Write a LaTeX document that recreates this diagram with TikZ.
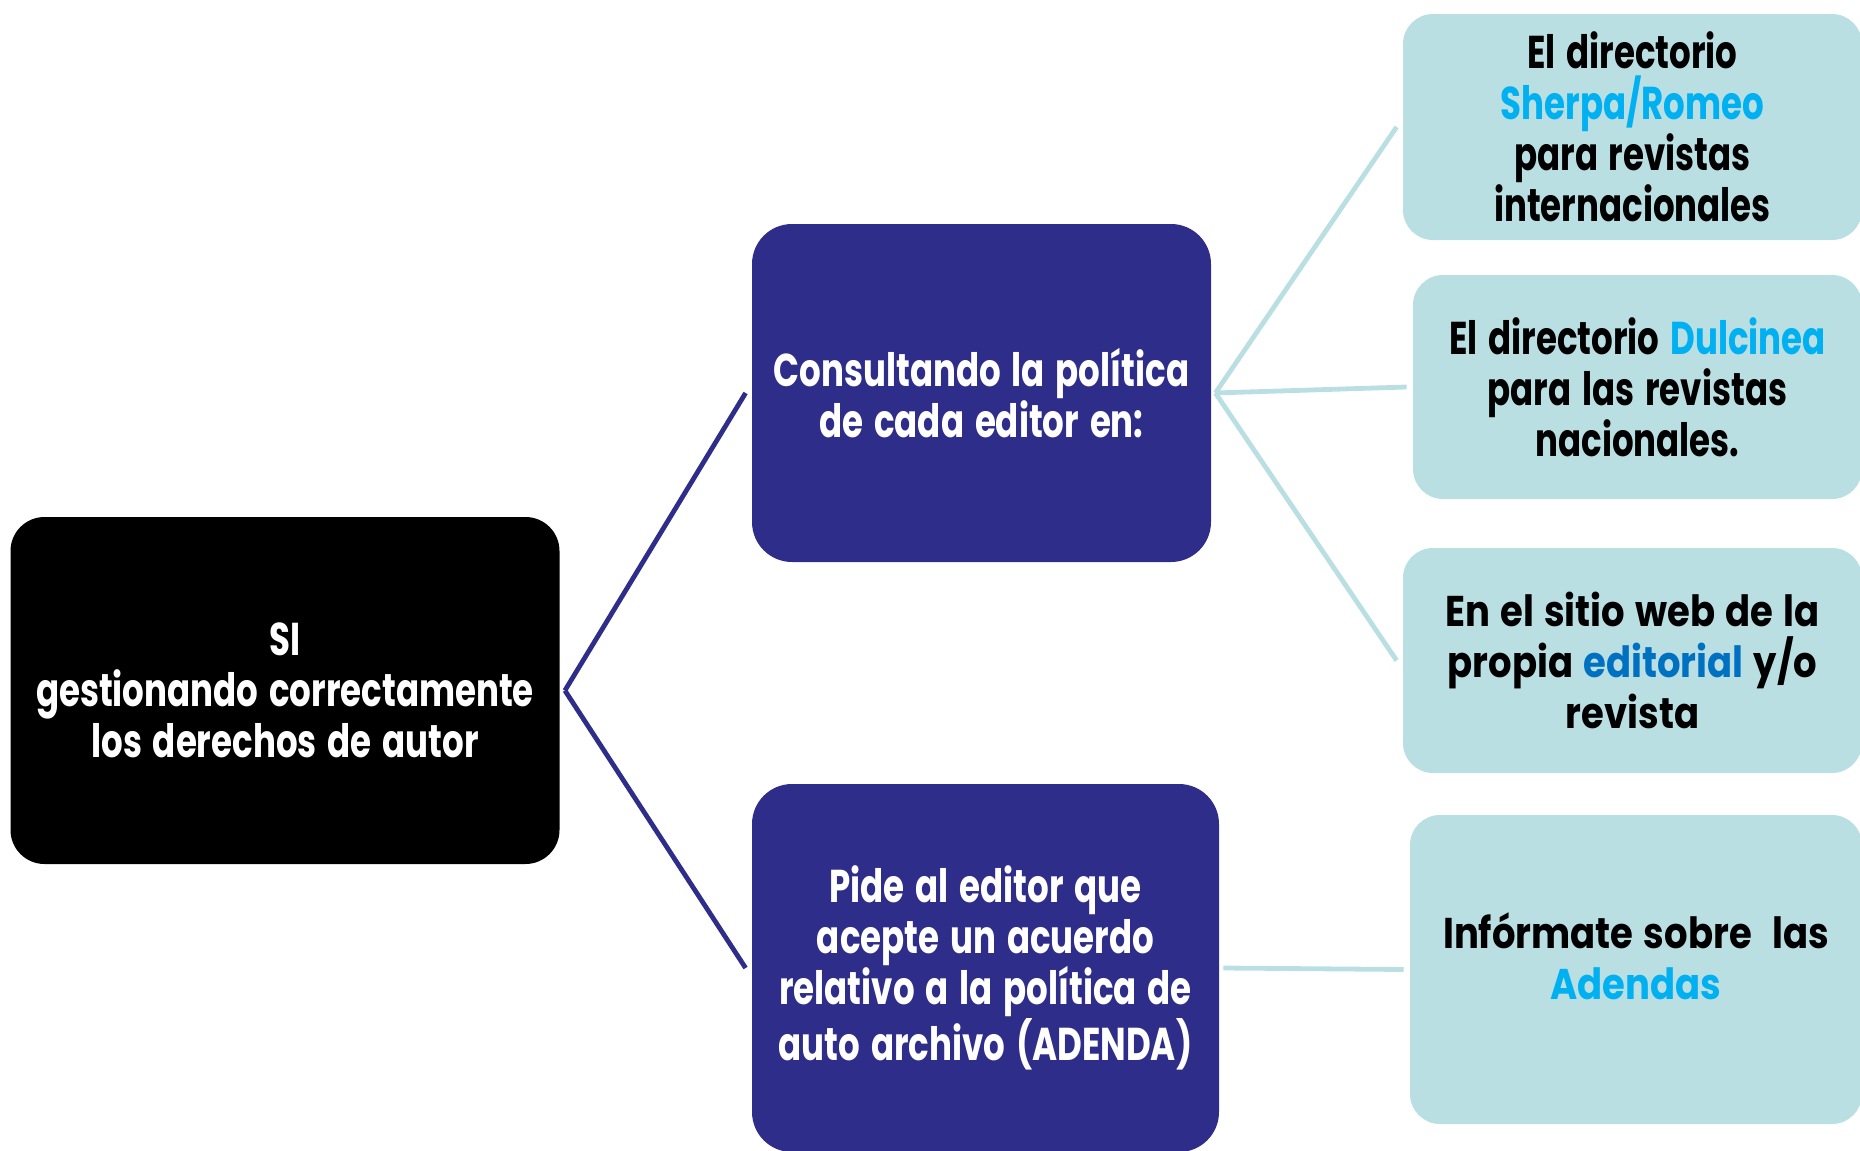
\documentclass[tikz,border=0pt]{standalone}
\usepackage{fontspec}
\newfontfamily\condfont{Poppins}[FakeStretch=0.74, WordSpace=1.5]
\newfontfamily\geofont{Poppins}[FakeStretch=0.86, WordSpace=1.3]
\definecolor{navy}{HTML}{2E2E8A}
\definecolor{paleteal}{HTML}{BADFE3}
\definecolor{skyblue}{HTML}{00B0F0}
\definecolor{linkblue}{HTML}{0070C0}
\tikzset{
	rootbox/.style={rectangle, rounded corners=17pt, fill=black, text=white, align=center, inner sep=0pt,
		font=\condfont\bfseries\fontsize{23}{25.5}\selectfont},
	midbox/.style={rectangle, rounded corners=20pt, fill=navy, text=white, align=center, inner sep=0pt,
		font=\condfont\bfseries\fontsize{23}{25.5}\selectfont},
	leafbox/.style={rectangle, rounded corners=15pt, fill=paleteal, text=black, align=center, inner sep=0pt,
		font=\condfont\bfseries\fontsize{23}{25.5}\selectfont},
	darklink/.style={draw=navy, line width=2.4pt},
	lightlink/.style={draw=paleteal, line width=2.4pt}
}
\begin{document}
\begin{tikzpicture}[x=0.5pt, y=-0.5pt]
			\useasboundingbox (0,0) rectangle (1860,1151);
			\clip (0,0) rectangle (1860,1151);
			
			%first column
			\node (root) at (285, 690.5) [rootbox, minimum width=274.5pt, minimum height=173.5pt]
				{SI\\gestionando correctamente\\los derechos de autor};
			
			%second column
			\node (cons) at (981.5, 393) [midbox, minimum width=229.5pt, minimum height=169pt]
				{Consultando la política\\de cada editor en:};
			\node (pide) at (985.5, 968) [midbox, minimum width=233.5pt, minimum height=184pt]
				{Pide al editor que\\acepte un acuerdo\\relativo a la política de\\auto archivo (ADENDA)};
			
			%third column
			\node (sherpa) at (1632.5, 127) [leafbox, minimum width=229.5pt, minimum height=113pt]
				{El directorio\\\textcolor{skyblue}{Sherpa/Romeo}\\para revistas\\internacionales};
			\node (dulci) at (1637.5, 387) [leafbox, minimum width=224.5pt, minimum height=112pt]
				{El directorio \textcolor{skyblue}{Dulcinea}\\para las revistas\\nacionales.};
			\node (sitio) at (1632.5, 660.5) [leafbox, minimum width=229.5pt, minimum height=112.5pt,
				font=\geofont\bfseries\fontsize{21.5}{25.5}\selectfont]
				{En el sitio web de la\\propia \textcolor{linkblue}{editorial} y/o\\revista};
			\node (inform) at (1636, 969.5) [leafbox, minimum width=226pt, minimum height=154.5pt,
				font=\geofont\bfseries\fontsize{21.5}{25.5}\selectfont]
				{Infórmate sobre\ \ las\\\textcolor{skyblue}{Adendas}\\[-12pt]};
			
			%links
			\draw[darklink] ([xshift=2.5pt]root.east) -- ([xshift=-3pt]cons.west);
			\draw[darklink] ([xshift=2.5pt]root.east) -- ([xshift=-3pt]pide.west);
			\foreach \leaf in {sherpa, dulci, sitio}{
				\draw[lightlink] ([xshift=2pt]cons.east) -- ([xshift=-3pt]\leaf.west);
			}
			\draw[lightlink] ([xshift=2pt]pide.east) -- ([xshift=-3pt]inform.west);
		\end{tikzpicture}
\end{document}
